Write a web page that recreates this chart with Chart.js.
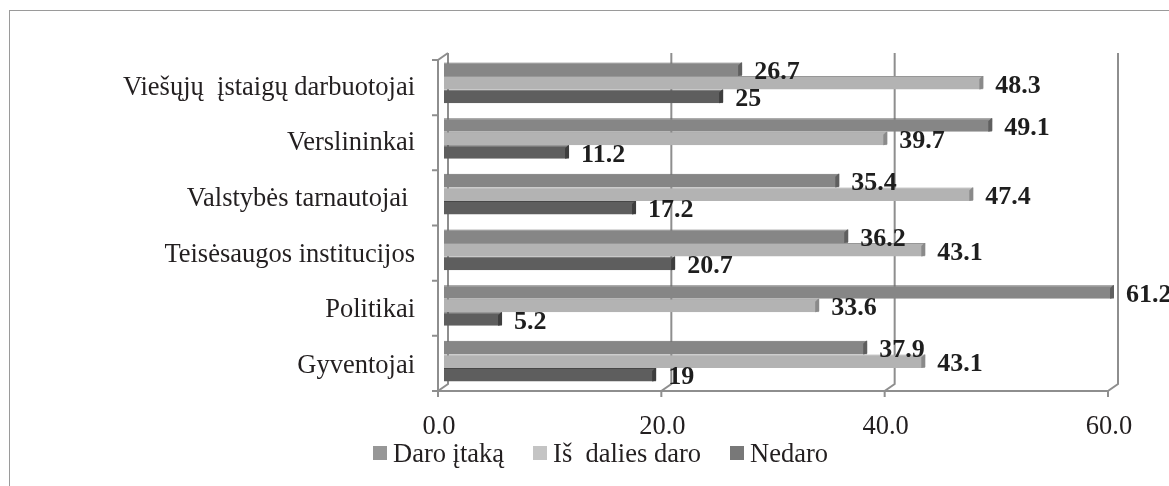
<!DOCTYPE html>
<html>
<head>
<meta charset="utf-8">
<script src="https://cdn.jsdelivr.net/npm/chart.js@4/dist/chart.umd.min.js"></script>
<style>
html, body { margin: 0; padding: 0; background: #fff; overflow: hidden; width: 1169px; height: 486px; }
#frame { position: absolute; left: 9px; top: 10px; width: 1300px; height: 600px; border: 1px solid #9a9a9a; }
#wrap { position: absolute; left: 0; top: 0; }
#legend { position: absolute; left: 373px; top: 440px; display: flex; gap: 29px;
          font: 26.5px 'Liberation Serif', serif; line-height: 26px; color: #231f20; white-space: pre; }
#legend .item { display: flex; align-items: center; }
#legend .sw { width: 14px; height: 14px; margin-right: 6px; }
</style>
</head>
<body>
<div id="frame"></div>
<div id="wrap"><canvas id="chart" width="1200" height="486"></canvas></div>
<div id="legend"></div>
<script>
const categories = ['Viešųjų  įstaigų darbuotojai', 'Verslininkai', 'Valstybės tarnautojai ',
                    'Teisėsaugos institucijos', 'Politikai', 'Gyventojai'];
const seriesNames = ['Daro įtaką', 'Iš  dalies daro', 'Nedaro'];
const daroItaka = [26.7, 49.1, 35.4, 36.2, 61.2, 37.9];
const isDaliesDaro = [48.3, 39.7, 47.4, 43.1, 33.6, 43.1];
const nedaro = [25, 11.2, 17.2, 20.7, 5.2, 19];
const xTicks = [0, 20, 40, 60];

const barColors = ['#868686', '#b3b3b3', '#5e5e5e'];
const edgeColors = ['#6c6c6c', '#979797', '#474747'];
const capColors = ['#5f5f5f', '#8a8a8a', '#3e3e3e'];
const legendColors = ['#979797', '#c4c4c4', '#787878'];
const serif = "'Liberation Serif', 'Times New Roman', serif";

// back wall, floor and axis lines drawn in a pseudo 3D way
const frame3d = {
    id: 'frame3d',
    beforeDatasetsDraw(chart) {
        const {ctx, chartArea: a, scales: {x}} = chart;
        const dx = 10, dy = 7;
        const frontTop = a.top + 5, frontBottom = a.bottom + 2;
        const frontLeft = x.getPixelForValue(0) - 6;
        ctx.save();
        ctx.strokeStyle = '#8e8e8e';
        ctx.lineWidth = 2;
        ctx.beginPath();
        xTicks.forEach(v => {
            const fx = x.getPixelForValue(v) - 6;
            ctx.moveTo(fx, frontBottom + 6);
            ctx.lineTo(fx, frontBottom);
            ctx.lineTo(fx + dx, frontBottom - dy);
            ctx.lineTo(fx + dx, frontTop - dy);
        });
        ctx.moveTo(frontLeft, frontBottom);
        ctx.lineTo(frontLeft, frontTop);
        ctx.lineTo(frontLeft + dx, frontTop - dy);
        ctx.moveTo(frontLeft - 6, frontBottom);
        ctx.lineTo(x.getPixelForValue(xTicks[xTicks.length - 1]) - 6, frontBottom);
        for (let i = 0; i < categories.length; i++) {
            const y = frontTop + i * (frontBottom - frontTop) / categories.length;
            ctx.moveTo(frontLeft - 6, y);
            ctx.lineTo(frontLeft, y);
        }
        ctx.stroke();
        ctx.restore();
    }
};

// bar end caps and value labels
const barDecor = {
    id: 'barDecor',
    afterDatasetsDraw(chart) {
        const {ctx, chartArea: a} = chart;
        ctx.save();
        chart.data.datasets.forEach((ds, di) => {
            chart.getDatasetMeta(di).data.forEach(bar => {
                const end = Math.min(bar.x, a.right);
                const top = bar.y - bar.height / 2, bottom = bar.y + bar.height / 2;
                ctx.fillStyle = capColors[di];
                ctx.beginPath();
                ctx.moveTo(end - 4, top + 3);
                ctx.lineTo(end - 1, top);
                ctx.lineTo(end, top);
                ctx.lineTo(end, bottom - 1);
                ctx.lineTo(end - 4, bottom);
                ctx.closePath();
                ctx.fill();
            });
        });
        ctx.font = 'bold 26px ' + serif;
        ctx.fillStyle = '#1e1e1e';
        ctx.textBaseline = 'middle';
        ctx.textAlign = 'left';
        chart.data.datasets.forEach((ds, di) => {
            chart.getDatasetMeta(di).data.forEach((bar, i) => {
                const end = Math.min(bar.x, a.right);
                ctx.fillText(String(ds.data[i]), end + 12, bar.y + 3);
            });
        });
        ctx.restore();
    }
};

const series = [daroItaka, isDaliesDaro, nedaro];

new Chart(document.getElementById('chart'), {
    type: 'bar',
    data: {
        labels: categories,
        datasets: series.map((d, i) => ({
            label: seriesNames[i],
            data: d,
            backgroundColor: barColors[i],
            borderColor: edgeColors[i],
            borderWidth: {top: 1, right: 0, bottom: 0, left: 0},
            borderSkipped: false,
            categoryPercentage: 0.73,
            barPercentage: 1.0,
            clip: 0
        }))
    },
    options: {
        indexAxis: 'y',
        responsive: false,
        animation: false,
        layout: {padding: {left: 0, right: 86, top: 55, bottom: 0}},
        plugins: {legend: {display: false}, tooltip: {enabled: false}},
        scales: {
            x: {
                type: 'linear',
                min: 0,
                max: 60,
                afterBuildTicks: s => { s.ticks = xTicks.map(v => ({value: v})); },
                afterFit: s => { s.height = 97; },
                grid: {display: false, drawTicks: false},
                border: {display: false},
                ticks: {
                    callback: v => Number(v).toFixed(1),
                    font: {family: serif, size: 26.5},
                    color: '#231f20',
                    padding: 22,
                    labelOffset: -5,
                    maxRotation: 0,
                    autoSkip: false
                }
            },
            y: {
                afterFit: s => { s.width = 444; },
                grid: {display: false, drawTicks: false},
                border: {display: false},
                ticks: {
                    font: {family: serif, size: 26.5},
                    color: '#231f20',
                    padding: 29,
                    labelOffset: 5,
                    autoSkip: false
                }
            }
        }
    },
    plugins: [frame3d, barDecor]
});

const legend = document.getElementById('legend');
seriesNames.forEach((name, i) => {
    legend.insertAdjacentHTML('beforeend',
        `<span class="item"><span class="sw" style="background:${legendColors[i]}"></span>${name}</span>`);
});
</script>
</body>
</html>
